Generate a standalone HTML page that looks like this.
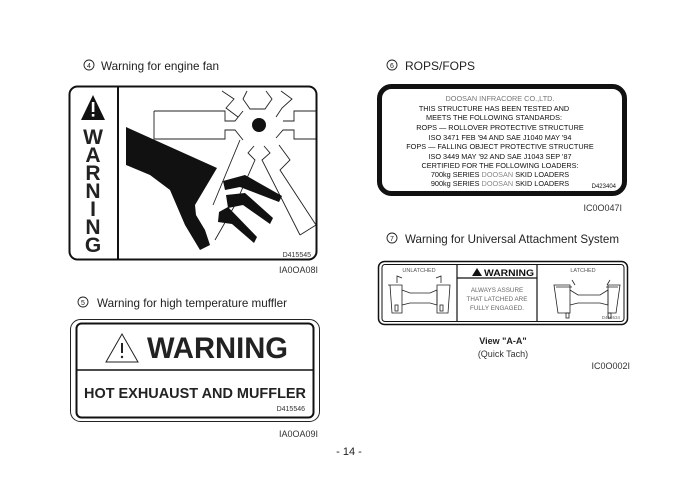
<!DOCTYPE html>
<html><head><meta charset="utf-8"><style>
html,body{margin:0;padding:0;background:#fff;}
svg{display:block;}
text{font-family:"Liberation Sans",sans-serif;}
</style></head><body>
<svg width="698" height="485" viewBox="0 0 698 485" xmlns="http://www.w3.org/2000/svg">
<!-- Section 4 -->
<circle cx="89" cy="65" r="5" fill="none" stroke="#222" stroke-width="0.9"/>
<text x="89" y="68" font-size="7" text-anchor="middle" fill="#222">4</text>
<text x="101" y="70" font-size="12" fill="#222" textLength="118" lengthAdjust="spacingAndGlyphs">Warning for engine fan</text>
<rect x="69.5" y="86.5" width="247" height="173" rx="8" fill="#fff" stroke="#111" stroke-width="2"/>
<line x1="118" y1="87" x2="118" y2="259" stroke="#111" stroke-width="2"/>
<polygon points="93,95 81,120 105,120" fill="#111"/>
<rect x="91.8" y="102" width="2.6" height="10" fill="#fff"/>
<rect x="91.8" y="114" width="2.6" height="2.6" fill="#fff"/>
<g font-size="21" font-weight="bold" text-anchor="middle" fill="#222">
<text x="93" y="144">W</text><text x="93" y="162">A</text><text x="93" y="180">R</text>
<text x="93" y="198">N</text><text x="93" y="216">I</text><text x="93" y="234">N</text><text x="93" y="252">G</text>
</g>
<g fill="none" stroke="#222" stroke-width="0.9">
<path d="M154,111 L225,111 L225,121 L235,121 L243,111"/>
<path d="M154,111 L154,139 L225,139 L225,130 L235,130 L243,140"/>
<path d="M222,91 L234,99 L226,108 L238,117"/>
<path d="M247,91 L243,99 L250,109 L265,109 L272,99 L266,91"/>
<path d="M281,91 L292,99 L282,108 L276,117"/>
<path d="M316,111 L294,111 L294,121 L283,121"/>
<path d="M316,139 L294,139 L294,130 L283,130 L276,138"/>
<path d="M254,146 L248,153 L255,160 L235,205 L215,240"/>
<path d="M264,146 L270,153 L262,160 L300,235"/>
<path d="M279,145 L290,160 L280,170 L316,225"/>
<path d="M300,235 L316,225"/>
<path d="M240,140 L213,205"/>
</g>
<circle cx="259" cy="125" r="7" fill="#111"/>
<path d="M126,127 L217,168 L195,205 L196,215 L205,230 L210,245 L200,250 L185,225 L170,190 L150,175 L126,165 Z" fill="#111"/>
<path d="M223,181 L245,175 L282,196 L279,202 L240,187 L225,190 Z" fill="#111"/>
<path d="M226,195 L245,193 L273,218 L270,224 L243,205 L228,208 Z" fill="#111"/>
<path d="M219,212 L228,207 L257,237 L254,243 L232,224 L218,222 Z" fill="#111"/>
<text x="311" y="257" font-size="7" text-anchor="end" fill="#333">D415545</text>
<text x="318" y="273" font-size="9" text-anchor="end" fill="#333">IA0OA08I</text>

<!-- Section 5 -->
<circle cx="83" cy="302" r="5" fill="none" stroke="#222" stroke-width="0.9"/>
<text x="83" y="305" font-size="7" text-anchor="middle" fill="#222">5</text>
<text x="97" y="307" font-size="12" fill="#222" textLength="190" lengthAdjust="spacingAndGlyphs">Warning for high temperature muffler</text>
<rect x="70.5" y="319.5" width="249" height="102" rx="10" fill="#fff" stroke="#222" stroke-width="1"/>
<rect x="76.5" y="323.5" width="237" height="94" rx="5" fill="#fff" stroke="#111" stroke-width="2"/>
<line x1="77" y1="370" x2="313" y2="370" stroke="#111" stroke-width="1.5"/>
<polygon points="122,334 106,362 138,362" fill="none" stroke="#222" stroke-width="1"/>
<rect x="121" y="343" width="2" height="10" fill="#222"/>
<circle cx="122" cy="357" r="1.2" fill="#222"/>
<text x="147" y="358" font-size="30" font-weight="bold" fill="#222" textLength="141" lengthAdjust="spacingAndGlyphs">WARNING</text>
<text x="195" y="398" font-size="15" font-weight="bold" text-anchor="middle" fill="#222" textLength="222" lengthAdjust="spacingAndGlyphs">HOT EXHUAUST AND MUFFLER</text>
<text x="305" y="411" font-size="7" text-anchor="end" fill="#333">D415546</text>
<text x="318" y="437" font-size="9" text-anchor="end" fill="#333">IA0OA09I</text>

<text x="349" y="455" font-size="11" text-anchor="middle" fill="#222">- 14 -</text>

<!-- Section 6 -->
<circle cx="392" cy="65" r="5" fill="none" stroke="#222" stroke-width="0.9"/>
<text x="392" y="68" font-size="7" text-anchor="middle" fill="#222">6</text>
<text x="405" y="70" font-size="12" fill="#222">ROPS/FOPS</text>
<rect x="379.5" y="86.5" width="245" height="107" rx="12" fill="#fff" stroke="#111" stroke-width="5"/>
<g font-size="7.3" text-anchor="middle" fill="#111">
<text x="500" y="101" fill="#777">DOOSAN INFRACORE CO.,LTD.</text>
<text x="494" y="111">THIS STRUCTURE HAS BEEN TESTED AND</text>
<text x="494" y="120">MEETS THE FOLLOWING STANDARDS:</text>
<text x="500" y="130">ROPS — ROLLOVER PROTECTIVE STRUCTURE</text>
<text x="500" y="140">ISO 3471 FEB '94 AND SAE J1040 MAY '94</text>
<text x="500" y="149">FOPS — FALLING OBJECT PROTECTIVE STRUCTURE</text>
<text x="500" y="159">ISO 3449 MAY '92 AND SAE J1043 SEP '87</text>
<text x="500" y="168">CERTIFIED FOR THE FOLLOWING LOADERS:</text>
<text x="500" y="177">700kg SERIES <tspan fill="#888">DOOSAN</tspan> SKID LOADERS</text>
<text x="500" y="186">900kg SERIES <tspan fill="#888">DOOSAN</tspan> SKID LOADERS</text>
</g>
<text x="616" y="188" font-size="6" text-anchor="end" fill="#111">D423404</text>
<text x="622" y="211" font-size="9" text-anchor="end" fill="#333">IC0O047I</text>

<!-- Section 7 -->
<circle cx="392" cy="238" r="5" fill="none" stroke="#222" stroke-width="0.9"/>
<text x="392" y="241" font-size="7" text-anchor="middle" fill="#222">7</text>
<text x="405" y="243" font-size="12" fill="#222" textLength="214" lengthAdjust="spacingAndGlyphs">Warning for Universal Attachment System</text>
<rect x="378.5" y="261.5" width="249" height="63" rx="6" fill="#fff" stroke="#111" stroke-width="1.5"/>
<rect x="382" y="264.5" width="242" height="57" rx="3" fill="#fff" stroke="#111" stroke-width="1"/>
<line x1="457" y1="265" x2="457" y2="321" stroke="#111" stroke-width="1.2"/>
<line x1="537" y1="265" x2="537" y2="321" stroke="#111" stroke-width="1.2"/>
<line x1="457" y1="278" x2="537" y2="278" stroke="#111" stroke-width="1.2"/>
<text x="419" y="272" font-size="5.5" text-anchor="middle" fill="#555">UNLATCHED</text>
<text x="583" y="272" font-size="5.5" text-anchor="middle" fill="#555">LATCHED</text>
<polygon points="477,268 472,276 482,276" fill="#111"/>
<text x="484" y="276" font-size="9.5" font-weight="bold" fill="#111" textLength="50" lengthAdjust="spacingAndGlyphs">WARNING</text>
<g font-size="6.3" text-anchor="middle" fill="#666">
<text x="497" y="292">ALWAYS ASSURE</text><text x="497" y="301">THAT LATCHED ARE</text><text x="497" y="310">FULLY ENGAGED.</text>
</g>
<g fill="none" stroke="#222" stroke-width="0.8">
<path d="M388,285 L402,285 L402,313 L392,313 L390,285"/>
<path d="M402,290 L410,293 L430,293 L437,290 L437,305 L430,303 L410,303 L402,305"/>
<path d="M437,285 L450,285 L448,313 L437,313 Z"/>
<path d="M397,283 L397,276 L402,278"/><path d="M441,283 L441,276 L436,278"/>
<rect x="395" y="305" width="3" height="6"/><rect x="440" y="305" width="3" height="6"/>
<path d="M554,285 L570,285 L570,313 L558,313 Z"/>
<path d="M570,290 L578,295 L600,295 L608,290 L608,305 L600,303 L578,303 L570,305"/>
<path d="M608,285 L620,285 L616,313 L608,313 Z"/>
<path d="M556,287 L572,287 M606,287 L618,287"/>
<path d="M572,280 L575,285 M610,280 L607,285"/>
<rect x="566" y="313" width="3" height="5"/><rect x="608" y="313" width="3" height="5"/>
</g>
<text x="620" y="319" font-size="4.5" text-anchor="end" fill="#666">D415534</text>
<text x="503" y="344" font-size="9" font-weight="bold" text-anchor="middle" fill="#222">View "A-A"</text>
<text x="503" y="357" font-size="9" text-anchor="middle" fill="#333">(Quick Tach)</text>
<text x="630" y="369" font-size="9" text-anchor="end" fill="#333">IC0O002I</text>
</svg>
</body></html>
